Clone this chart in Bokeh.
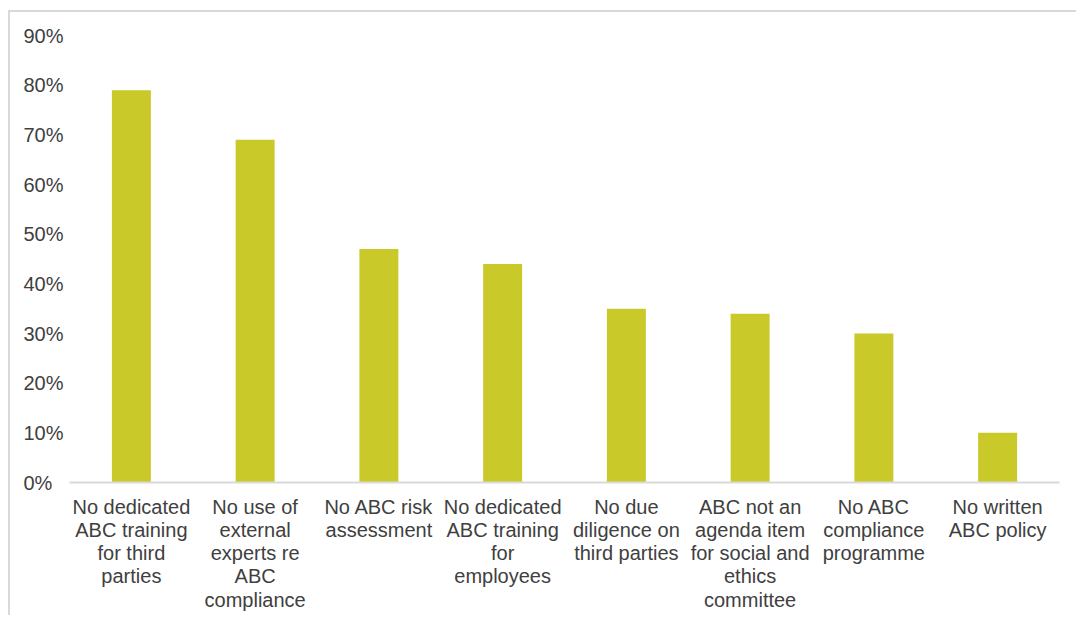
from bokeh.plotting import figure
from bokeh.models import FactorRange, Range1d, FixedTicker, NumeralTickFormatter
from bokeh.embed import file_html
from bokeh.resources import INLINE

categories = [
    "No dedicated\nABC training\nfor third\nparties",
    "No use of\nexternal\nexperts re\nABC\ncompliance",
    "No ABC risk\nassessment",
    "No dedicated\nABC training\nfor\nemployees",
    "No due\ndiligence on\nthird parties",
    "ABC not an\nagenda item\nfor social and\nethics\ncommittee",
    "No ABC\ncompliance\nprogramme",
    "No written\nABC policy",
]
values = [0.79, 0.69, 0.47, 0.44, 0.35, 0.34, 0.30, 0.10]
y_ticks = [0.0, 0.1, 0.2, 0.3, 0.4, 0.5, 0.6, 0.7, 0.8, 0.9]

FONT = "Liberation Sans"
TEXT = "#404040"

p = figure(
    x_range=FactorRange(factors=categories, range_padding=0),
    y_range=Range1d(0, 0.9),
    width=1068, height=605,
    output_backend="svg", toolbar_location=None,
    min_border_left=59, min_border_right=19, min_border_top=23, min_border_bottom=135,
)
p.styles = {
    "margin-left": "8px", "margin-top": "10px",
    "border-top": "2px solid #d9d9d9", "border-left": "2px solid #d9d9d9",
}

p.vbar(x=categories, top=values, width=0.315, color="#C9C92A", line_color=None)

p.outline_line_color = None
p.xgrid.grid_line_color = None
p.ygrid.grid_line_color = None
p.background_fill_color = "white"
p.border_fill_color = "white"

p.yaxis.ticker = FixedTicker(ticks=y_ticks)
p.yaxis.formatter = NumeralTickFormatter(format="0%")
p.yaxis.major_label_overrides = {0: "0%\u00a0\u00a0"}
p.yaxis.axis_line_color = None
p.yaxis.major_tick_line_color = None
p.yaxis.major_tick_out = 0
p.yaxis.major_tick_in = 0
p.yaxis.minor_tick_line_color = None
p.yaxis.major_label_text_font = FONT
p.yaxis.major_label_text_font_size = "20px"
p.yaxis.major_label_text_color = TEXT
p.yaxis.major_label_standoff = 6

p.xaxis.axis_line_color = "#D9D9D9"
p.xaxis.axis_line_width = 2
p.xaxis.major_tick_line_color = None
p.xaxis.major_tick_out = 0
p.xaxis.major_tick_in = 0
p.xaxis.minor_tick_line_color = None
p.xaxis.major_label_text_font = FONT
p.xaxis.major_label_text_font_size = "20px"
p.xaxis.major_label_text_color = TEXT
p.xaxis.major_label_text_line_height = 1.06
p.xaxis.major_label_standoff = 13
p.xaxis.major_label_orientation = "horizontal"

open("out.html", "w").write(file_html(p, INLINE))
